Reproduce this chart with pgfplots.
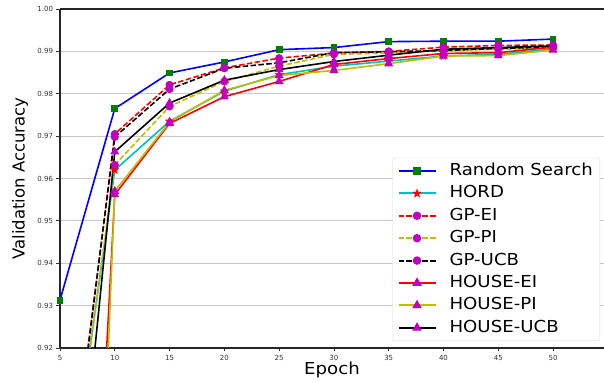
\documentclass[border=0pt]{standalone}
\usepackage{pgfplots}
\pgfplotsset{compat=1.18}
\usepackage{fontspec}
\setmainfont{DejaVu Sans}
\newfontfamily\wide[FakeStretch=1.1]{DejaVu Sans}
\definecolor{mgreen}{rgb}{0,0.5,0}
\definecolor{mcyan}{rgb}{0,0.75,0.75}
\definecolor{mmag}{rgb}{0.75,0,0.75}
\definecolor{myel}{rgb}{0.75,0.75,0}
\definecolor{gridc}{rgb}{0.78,0.78,0.78}
\pgfdeclareplotmark{fstar}{%
  \pgfpathmoveto{\pgfpointpolar{90}{\pgfplotmarksize}}%
  \pgfpathlineto{\pgfpointpolar{126}{0.42\pgfplotmarksize}}%
  \pgfpathlineto{\pgfpointpolar{162}{\pgfplotmarksize}}%
  \pgfpathlineto{\pgfpointpolar{198}{0.42\pgfplotmarksize}}%
  \pgfpathlineto{\pgfpointpolar{234}{\pgfplotmarksize}}%
  \pgfpathlineto{\pgfpointpolar{270}{0.42\pgfplotmarksize}}%
  \pgfpathlineto{\pgfpointpolar{306}{\pgfplotmarksize}}%
  \pgfpathlineto{\pgfpointpolar{342}{0.42\pgfplotmarksize}}%
  \pgfpathlineto{\pgfpointpolar{18}{\pgfplotmarksize}}%
  \pgfpathlineto{\pgfpointpolar{54}{0.42\pgfplotmarksize}}%
  \pgfpathclose\pgfusepathqfillstroke}
\begin{document}
\begin{tikzpicture}
\path[use as bounding box] (-60pt,-33pt) rectangle (544pt,348pt);
\begin{axis}[
  at={(0,0)}, anchor=south west,
  scale only axis, width=544pt, height=339pt,
  xmin=5, xmax=54.65, ymin=0.92, ymax=1.00,
  axis x line=box, axis y line=left,
  axis line style={-, line width=1.1pt, draw=black!85},
  xtick={5,10,...,50},
  ytick={0.92,0.93,...,1.001},
  yticklabel style={/pgf/number format/fixed, /pgf/number format/precision=2, /pgf/number format/fixed zerofill},
  /pgf/number format/assume math mode=true,
  tick label style={font=\fontsize{7}{8}\selectfont, text=black!80},
  tick align=outside, xtick pos=bottom, ytick pos=left,
  major tick length=3.5pt,
  every tick/.style={black!80, line width=0.8pt},
  ymajorgrids, grid style={gridc, line width=0.9pt},
  xlabel={Epoch}, ylabel={Validation Accuracy},
  label style={font=\fontsize{16.5}{18}\selectfont},
  xlabel style={font=\wide\fontsize{16.5}{18}\selectfont, at={(axis description cs:0.5,-0.0649)}, anchor=center},
  ylabel style={at={(axis description cs:-0.0735,0.5)}, anchor=center},
  legend cell align=left,
  legend style={font=\wide\fontsize{16.5}{18}\selectfont, at={(1,0)}, anchor=south east, xshift=-4pt, yshift=7pt,
    draw=black!15, rounded corners=3pt, fill=white,
    inner xsep=5pt, inner ysep=5pt, row sep=6.4pt,
    nodes={inner ysep=0pt, inner xsep=2pt, text height=12.5pt, text depth=3.5pt},
    /tikz/every odd column/.append style={column sep=11pt}},
  legend image code/.code={\draw[line width=2pt, mark repeat=2,mark phase=2] plot coordinates {(0pt,0pt) (18.5pt,0pt) (37pt,0pt)};},
  every axis plot/.append style={line width=1.6pt},
]
\addplot[blue, mark=square*, mark options={solid, fill=mgreen, draw=mgreen, scale=1.3}] coordinates {
(5,0.9313) (10,0.9765) (15,0.9849) (20,0.9875) (25,0.9904) (30,0.9909) (35,0.9923) (40,0.9924) (45,0.9924) (50,0.9929)};
\addlegendentry{Random Search}
\addplot[mcyan, mark=fstar, mark options={solid, fill=red, draw=red, line width=0.3pt, scale=2.2}] coordinates {
(5,0.869) (10,0.9620) (15,0.9735) (20,0.9806) (25,0.9845) (30,0.9865) (35,0.9877) (40,0.9889) (45,0.9893) (50,0.9906)};
\addlegendentry{HORD}
\addplot[red, dash pattern=on 5.5pt off 2.4pt, mark=*, mark options={solid, fill=mmag, draw=mmag, scale=1.6}] coordinates {
(5,0.8659) (10,0.9705) (15,0.9821) (20,0.9861) (25,0.9884) (30,0.9896) (35,0.9900) (40,0.9910) (45,0.9914) (50,0.9915)};
\addlegendentry{GP-EI}
\addplot[myel, dash pattern=on 5.5pt off 2.4pt, mark=*, mark options={solid, fill=mmag, draw=mmag, scale=1.6}] coordinates {
(5,0.867) (10,0.9632) (15,0.9770) (20,0.9829) (25,0.9865) (30,0.9893) (35,0.9896) (40,0.9902) (45,0.9905) (50,0.9908)};
\addlegendentry{GP-PI}
\addplot[black, dash pattern=on 5.5pt off 2.4pt, mark=*, mark options={solid, fill=mmag, draw=mmag, scale=1.6}] coordinates {
(5,0.868) (10,0.9698) (15,0.9811) (20,0.9860) (25,0.9873) (30,0.9897) (35,0.9899) (40,0.9902) (45,0.9907) (50,0.9910)};
\addlegendentry{GP-UCB}
\addplot[red, mark=triangle*, mark options={solid, fill=mmag, draw=mmag, scale=1.8}] coordinates {
(5,0.7116) (10,0.9562) (15,0.9730) (20,0.9793) (25,0.9829) (30,0.9869) (35,0.9883) (40,0.9895) (45,0.9897) (50,0.9910)};
\addlegendentry{HOUSE-EI}
\addplot[myel, mark=triangle*, mark options={solid, fill=mmag, draw=mmag, scale=1.8}] coordinates {
(5,0.6434) (10,0.9570) (15,0.9733) (20,0.9808) (25,0.9843) (30,0.9855) (35,0.9871) (40,0.9889) (45,0.9890) (50,0.9903)};
\addlegendentry{HOUSE-PI}
\addplot[black, mark=triangle*, mark options={solid, fill=mmag, draw=mmag, scale=1.8}] coordinates {
(5,0.8384) (10,0.9663) (15,0.9778) (20,0.9832) (25,0.9857) (30,0.9876) (35,0.9891) (40,0.9905) (45,0.9909) (50,0.9913)};
\addlegendentry{HOUSE-UCB}
\end{axis}
\end{tikzpicture}
\end{document}
